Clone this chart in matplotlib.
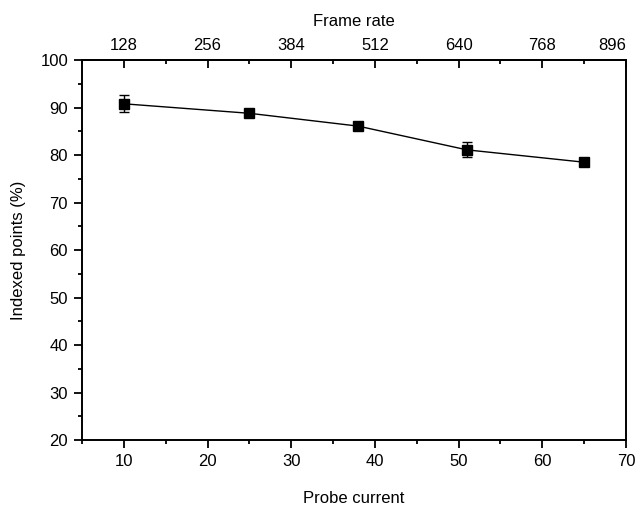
import matplotlib
matplotlib.use("Agg")
import matplotlib.pyplot as plt
import matplotlib.transforms as mtransforms
from matplotlib.ticker import MultipleLocator, FuncFormatter

plt.rcParams['font.family'] = ['Liberation Sans', 'DejaVu Sans']

# data
probe_current = [10, 25, 38, 51, 65]
indexed_points = [90.8, 88.8, 86.1, 81.1, 78.5]
errors = [1.8, 0.5, 0.5, 1.6, 0.5]
frame_ratio = 12.8  # frame rate = 12.8 * probe current

fig = plt.figure(figsize=(6.38, 5.12), dpi=100)
ax = fig.add_axes([0.1285, 0.1406, 0.8527, 0.742])

ax.errorbar(probe_current, indexed_points, yerr=errors, color='black', lw=1.0,
            marker='s', markersize=6.7, capsize=3.3, elinewidth=1.0, capthick=1.0)

ax.set_xlim(5, 70)
ax.set_ylim(20, 100)
ax.xaxis.set_major_locator(MultipleLocator(10))
ax.xaxis.set_minor_locator(MultipleLocator(5))
ax.yaxis.set_major_locator(MultipleLocator(10))
ax.yaxis.set_minor_locator(MultipleLocator(5))

for s in ax.spines.values():
    s.set_linewidth(1.4)

ax.tick_params(which='major', direction='out', length=6, width=1.3, labelsize=12, pad=4)
ax.tick_params(which='minor', direction='out', length=3, width=1.3)
ax.set_xlabel('Probe current', fontsize=12, labelpad=16)
ax.set_ylabel('Indexed points (%)', fontsize=12, labelpad=10)

# top axis: frame rate
xmax_rate = ax.get_xlim()[1] * frame_ratio
top = ax.secondary_xaxis('top', functions=(lambda x: x * frame_ratio, lambda f: f / frame_ratio))
top.xaxis.set_major_locator(MultipleLocator(128))
top.xaxis.set_minor_locator(MultipleLocator(64))
# last label is drawn separately so it stays inside the figure, as in the reference
top.xaxis.set_major_formatter(FuncFormatter(
    lambda v, pos: '' if v > xmax_rate - 1 else f'{v:.0f}'))
top.tick_params(which='major', direction='in', length=6, width=1.3, labelsize=12, pad=5)
top.tick_params(which='minor', direction='in', length=3, width=1.3)
top.spines['top'].set_linewidth(1.4)
top.set_xlabel('Frame rate', fontsize=12, labelpad=9)

trans = mtransforms.blended_transform_factory(ax.transData, ax.transAxes)
trans = trans + mtransforms.ScaledTranslation(0, 5 / 72, fig.dpi_scale_trans)
ax.text(ax.get_xlim()[1], 1.0, f'{xmax_rate:.0f}', transform=trans,
        ha='right', va='bottom', fontsize=12)

fig.savefig('out.png', dpi=100)
